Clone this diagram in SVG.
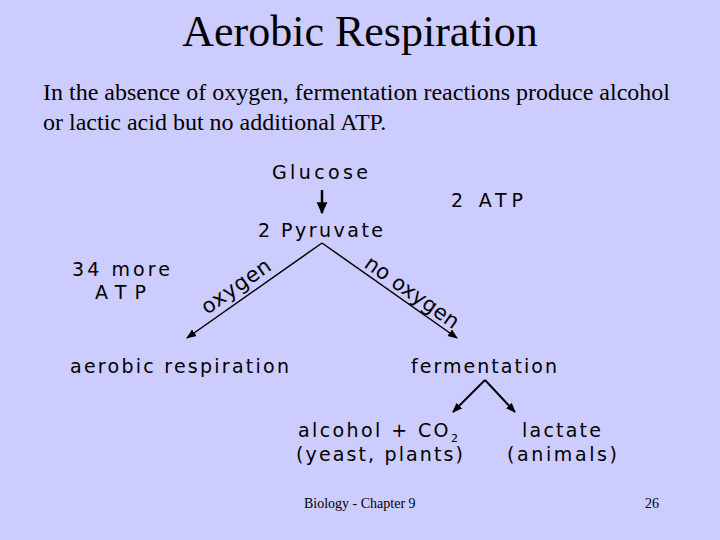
<svg xmlns="http://www.w3.org/2000/svg" width="720" height="540" viewBox="0 0 720 540">
<defs>
<style>
.serif{font-family:"Liberation Serif","Times New Roman",serif;fill:#000}
.sans{font-family:"DejaVu Sans","Liberation Sans",Arial,sans-serif;font-size:19px;fill:#000}
.ln{stroke:#000;stroke-width:1.5;fill:none}
</style>
<marker id="ah" viewBox="0 0 10 10" refX="9" refY="5" markerWidth="10" markerHeight="10" markerUnits="userSpaceOnUse" orient="auto">
<path d="M0,1 L10,5 L0,9 Z" fill="#000"/>
</marker>
<marker id="ahb" viewBox="0 0 10 10" refX="9" refY="5" markerWidth="12" markerHeight="12" markerUnits="userSpaceOnUse" orient="auto">
<path d="M0,0.5 L10,5 L0,9.5 Z" fill="#000"/>
</marker>
</defs>
<rect width="720" height="540" fill="#CCCCFF"/>
<text class="serif" x="360" y="46" font-size="44" text-anchor="middle">Aerobic Respiration</text>
<text class="serif" x="43" y="100" font-size="24" textLength="627" lengthAdjust="spacingAndGlyphs">In the absence of oxygen, fermentation reactions produce alcohol</text>
<text class="serif" x="43" y="130" font-size="24">or lactic acid but no additional ATP.</text>

<g id="connectors">
<line class="ln" x1="322" y1="190" x2="322" y2="213" style="stroke-width:2.5" marker-end="url(#ahb)"/>
<line class="ln" x1="322" y1="243" x2="187" y2="338" marker-end="url(#ah)"/>
<line class="ln" x1="322" y1="243" x2="457" y2="338" marker-end="url(#ah)"/>
<line class="ln" x1="485" y1="380" x2="453" y2="412" style="stroke-width:2" marker-end="url(#ah)"/>
<line class="ln" x1="485" y1="380" x2="515" y2="412" style="stroke-width:2" marker-end="url(#ah)"/>
<text class="sans" transform="translate(240,292) rotate(-35)" text-anchor="middle" style="font-size:21px" textLength="80" lengthAdjust="spacing">oxygen</text>
<text class="sans" transform="translate(408,298) rotate(35)" text-anchor="middle" style="font-size:21px" textLength="110" lengthAdjust="spacing">no oxygen</text>
</g>

<g id="glucose"><text class="sans" x="272" y="179" textLength="96" lengthAdjust="spacing">Glucose</text></g>
<g id="atp2"><text class="sans" x="451" y="207" textLength="72" lengthAdjust="spacing">2 ATP</text></g>
<g id="pyruvate"><text class="sans" x="258" y="237" textLength="125" lengthAdjust="spacing">2 Pyruvate</text></g>
<g id="atp34">
<text class="sans" x="72" y="276" textLength="98" lengthAdjust="spacing">34 more</text>
<text class="sans" x="95" y="299" textLength="51" lengthAdjust="spacing">ATP</text>
</g>
<g id="aerobic"><text class="sans" x="70" y="373" textLength="219" lengthAdjust="spacing">aerobic respiration</text></g>
<g id="fermentation"><text class="sans" x="411" y="373" textLength="146" lengthAdjust="spacing">fermentation</text></g>
<g id="alcohol">
<text class="sans" x="298" y="437" style="letter-spacing:2.4px">alcohol + CO<tspan dy="5" style="font-size:11px;letter-spacing:0">2</tspan></text>
<text class="sans" x="296" y="461" textLength="167" lengthAdjust="spacing">(yeast, plants)</text>
</g>
<g id="lactate">
<text class="sans" x="522" y="437" textLength="79" lengthAdjust="spacing">lactate</text>
<text class="sans" x="507" y="461" textLength="110" lengthAdjust="spacing">(animals)</text>
</g>
<text class="serif" x="304" y="508" font-size="14">Biology - Chapter 9</text>
<text class="serif" x="645" y="508" font-size="14">26</text>
</svg>
